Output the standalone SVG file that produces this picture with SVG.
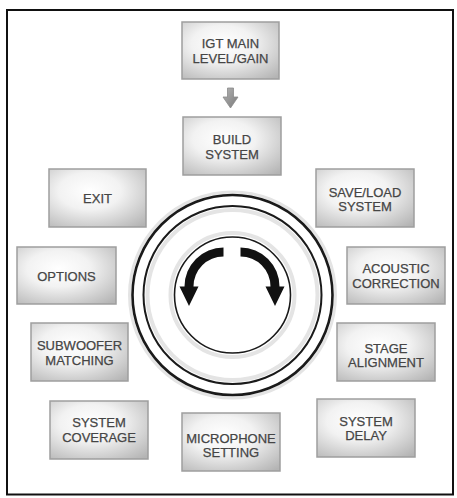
<svg xmlns="http://www.w3.org/2000/svg" width="457" height="498" viewBox="0 0 457 498">
  <defs>
    <radialGradient id="boxfill" cx="42%" cy="38%" r="80%">
      <stop offset="0" stop-color="#ffffff"/>
      <stop offset="0.4" stop-color="#f2f2f2"/>
      <stop offset="1" stop-color="#b4b4b4"/>
    </radialGradient>
    <linearGradient id="arrowfill" x1="0" y1="0" x2="1" y2="1">
      <stop offset="0" stop-color="#b5b5b5"/>
      <stop offset="1" stop-color="#7a7a7a"/>
    </linearGradient>
  </defs>
  <style>
    .box { fill: url(#boxfill); stroke: #9e9e9e; stroke-width: 1.5; }
    .lbl { font-family: "Liberation Sans", Arial, sans-serif; font-size: 13px; fill: #454545; stroke: #454545; stroke-width: 0.25; text-anchor: middle; }
    .ring { fill: none; stroke: #1a1a1a; }
    .glow { fill: none; stroke: #e4e4e4; }
  </style>

  <rect x="0" y="0" width="457" height="498" fill="#ffffff"/>
  <rect x="7" y="10" width="446" height="484.5" fill="#ffffff" stroke="#111111" stroke-width="2"/>

  <g id="dial">
    <circle class="glow" cx="232.5" cy="295" r="103" stroke-width="3"/>
    <circle class="glow" cx="232.5" cy="295" r="85" stroke-width="4"/>
    <circle class="glow" cx="232.5" cy="295" r="62" stroke-width="4"/>
    <circle class="ring" cx="232.5" cy="295" r="100" stroke-width="2.6"/>
    <circle class="ring" cx="232.5" cy="295" r="89" stroke-width="2"/>
    <circle class="ring" cx="232.5" cy="295" r="58" stroke-width="1.6"/>
    <path fill="#111111" d="M223.5,247.5 A39,39 0 0 0 184.5,286.5 L179.5,286.5 L189,306 L198.5,286.5 L193.5,286.5 A30,30 0 0 1 223.5,256.5 Z"/>
    <path fill="#111111" d="M240.5,247.5 A39,39 0 0 1 279.5,286.5 L284.5,286.5 L275,306 L265.5,286.5 L270.5,286.5 A30,30 0 0 0 240.5,256.5 Z"/>
  </g>

  <g id="connectors">
    <path fill="url(#arrowfill)" stroke="#8a8a8a" stroke-width="0.8" d="M227.5,88 L233.5,88 L233.5,97 L238,97 L230.5,108 L223,97 L227.5,97 Z"/>
  </g>

  <g id="igt-main">
    <rect class="box" x="182" y="22" width="97" height="57"/>
    <text class="lbl" x="230.5" y="48.3">IGT MAIN</text>
    <text class="lbl" x="230.5" y="63.3">LEVEL/GAIN</text>
  </g>
  <g id="build-system">
    <rect class="box" x="183" y="117" width="98" height="58"/>
    <text class="lbl" x="232" y="144">BUILD</text>
    <text class="lbl" x="232" y="159">SYSTEM</text>
  </g>
  <g id="exit">
    <rect class="box" x="49" y="169" width="97" height="58"/>
    <text class="lbl" x="97.5" y="203">EXIT</text>
  </g>
  <g id="save-load">
    <rect class="box" x="316" y="169" width="98" height="58"/>
    <text class="lbl" x="365" y="196.7">SAVE/LOAD</text>
    <text class="lbl" x="365" y="211">SYSTEM</text>
  </g>
  <g id="options">
    <rect class="box" x="17" y="247" width="99" height="57"/>
    <text class="lbl" x="66.5" y="281">OPTIONS</text>
  </g>
  <g id="acoustic-correction">
    <rect class="box" x="347" y="247" width="98" height="57"/>
    <text class="lbl" x="396" y="273.3">ACOUSTIC</text>
    <text class="lbl" x="396" y="287.7">CORRECTION</text>
  </g>
  <g id="subwoofer-matching">
    <rect class="box" x="31" y="323" width="97" height="58"/>
    <text class="lbl" x="79.5" y="350">SUBWOOFER</text>
    <text class="lbl" x="79.5" y="365">MATCHING</text>
  </g>
  <g id="stage-alignment">
    <rect class="box" x="337" y="323" width="98" height="58"/>
    <text class="lbl" x="386" y="352.7">STAGE</text>
    <text class="lbl" x="386" y="367.3">ALIGNMENT</text>
  </g>
  <g id="system-coverage">
    <rect class="box" x="50" y="401" width="98" height="58"/>
    <text class="lbl" x="99" y="427">SYSTEM</text>
    <text class="lbl" x="99" y="442">COVERAGE</text>
  </g>
  <g id="microphone-setting">
    <rect class="box" x="182" y="413" width="98" height="58"/>
    <text class="lbl" x="231" y="442.7">MICROPHONE</text>
    <text class="lbl" x="231" y="456.7">SETTING</text>
  </g>
  <g id="system-delay">
    <rect class="box" x="317" y="399" width="98" height="58"/>
    <text class="lbl" x="366" y="425.7">SYSTEM</text>
    <text class="lbl" x="366" y="440">DELAY</text>
  </g>
</svg>
